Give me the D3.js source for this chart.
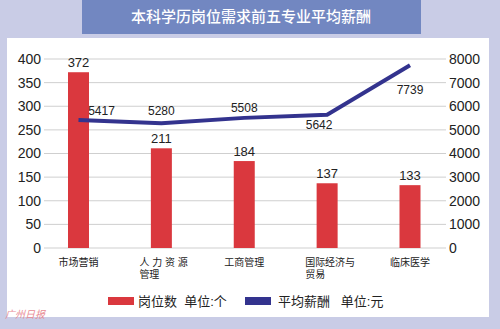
<!DOCTYPE html>
<html>
<head>
<meta charset="utf-8">
<script src="https://cdn.jsdelivr.net/npm/d3@7/dist/d3.min.js"></script>
<style>
  html, body { margin: 0; padding: 0; background: #c9cce6; }
  svg { display: block; }
  text { font-family: "Liberation Sans", Arial, "Noto Sans CJK SC", sans-serif; white-space: pre; }
</style>
</head>
<body>
<svg id="chart" width="500" height="329"></svg>
<script>
// 本科学历岗位需求前五专业：岗位数与平均薪酬
const categories = ["市场营销", "人力资源管理", "工商管理", "国际经济与贸易", "临床医学"];
const categoryLines = [["市场营销"], ["人 力 资 源", "管理"], ["工商管理"], ["国际经济与", "贸易"], ["临床医学"]];
const jobCounts = [372, 211, 184, 137, 133];
const avgSalary = [5417, 5280, 5508, 5642, 7739];
const leftTicks = [0, 50, 100, 150, 200, 250, 300, 350, 400];
const rightTicks = [0, 1000, 2000, 3000, 4000, 5000, 6000, 7000, 8000];

const W = 500, H = 329;
const svg = d3.select("#chart");

const RED = "#da383e", NAVY = "#33338e";
const plot = { left: 44, right: 446, top: 59, bottom: 248 };

// background, title banner and white panel
svg.append("rect").attr("width", W).attr("height", H).attr("fill", "#c9cce6");
svg.append("rect").attr("x", 82).attr("y", 0).attr("width", 339).attr("height", 34).attr("fill", "#7287c1");
svg.append("text").attr("x", 251).attr("y", 22).attr("text-anchor", "middle")
  .attr("fill", "#fff").attr("font-size", 15).attr("font-weight", 500)
  .attr("font-family", "'Noto Sans CJK SC', sans-serif")
  .text("本科学历岗位需求前五专业平均薪酬");
svg.append("rect").attr("x", 7).attr("y", 38).attr("width", 482).attr("height", 279).attr("fill", "#fff");

// scales
const x = d3.scalePoint().domain(categories).range([78.5, 410]);
const yL = d3.scaleLinear().domain([0, 400]).range([plot.bottom, plot.top]);
const yR = d3.scaleLinear().domain([0, 8000]).range([plot.bottom, plot.top]);

// gridlines
svg.append("g").selectAll("line").data(leftTicks).join("line")
  .attr("x1", plot.left).attr("x2", plot.right)
  .attr("y1", d => yL(d)).attr("y2", d => yL(d))
  .attr("stroke", "#cfcfcf").attr("stroke-width", 1);

// axes (labels only)
const axL = svg.append("g").attr("transform", `translate(${plot.left},0)`)
  .call(d3.axisLeft(yL).tickValues(leftTicks).tickFormat(d3.format("d")).tickSize(0).tickPadding(3));
const axR = svg.append("g").attr("transform", `translate(${plot.right},0)`)
  .call(d3.axisRight(yR).tickValues(rightTicks).tickFormat(d3.format("d")).tickSize(0).tickPadding(3));
[axL, axR].forEach(a => {
  a.select(".domain").remove();
  a.selectAll("text").attr("font-size", 14).attr("fill", "#222")
    .attr("font-family", "'Liberation Sans Narrow', 'Liberation Sans', Arial, sans-serif");
});

// bars
const barW = 21;
svg.append("g").selectAll("rect").data(jobCounts).join("rect")
  .attr("x", (d, i) => x(categories[i]) - barW / 2)
  .attr("y", d => yL(d))
  .attr("width", barW)
  .attr("height", d => yL(0) - yL(d))
  .attr("fill", RED);

// bar value labels
svg.append("g").selectAll("text").data(jobCounts).join("text")
  .attr("x", (d, i) => x(categories[i]))
  .attr("y", d => yL(d) - 5)
  .attr("text-anchor", "middle").attr("font-size", 13).attr("fill", "#222")
  .text(d => d);

// salary line
const line = d3.line().x((d, i) => x(categories[i])).y(d => yR(d));
svg.append("path").datum(avgSalary)
  .attr("d", line).attr("fill", "none")
  .attr("stroke", NAVY).attr("stroke-width", 4).attr("stroke-linejoin", "miter");

// salary labels
const salaryOffsets = [[23, -5], [0, -8], [0, -6], [-8, 14], [0, 29]];
svg.append("g").selectAll("text").data(avgSalary).join("text")
  .attr("x", (d, i) => x(categories[i]) + salaryOffsets[i][0])
  .attr("y", (d, i) => yR(d) + salaryOffsets[i][1])
  .attr("text-anchor", "middle").attr("font-size", 12).attr("fill", "#222")
  .text(d => d);

// category labels
const catG = svg.append("g").attr("font-size", 10).attr("fill", "#222")
  .attr("font-family", "'Noto Sans CJK SC', sans-serif");
categoryLines.forEach((lines, i) => {
  const cx = x(categories[i]);
  const multi = lines.length > 1;
  const t = catG.append("text")
    .attr("x", multi ? cx - 22 : cx)
    .attr("y", 266)
    .attr("text-anchor", multi ? "start" : "middle");
  lines.forEach((s, j) => {
    t.append("tspan").attr("x", multi ? cx - 22 : cx).attr("dy", j ? 12 : 0).text(s);
  });
});

// legend
const lg = svg.append("g").attr("font-family", "'Noto Sans CJK SC', sans-serif")
  .attr("font-size", 13).attr("fill", "#222");
lg.append("rect").attr("x", 108).attr("y", 297).attr("width", 26).attr("height", 8).attr("fill", RED);
lg.append("text").attr("x", 138).attr("y", 306).text("岗位数  单位:个");
lg.append("rect").attr("x", 245).attr("y", 297).attr("width", 26).attr("height", 8).attr("fill", NAVY);
lg.append("text").attr("x", 278).attr("y", 306).text("平均薪酬   单位:元");

// newspaper mark
svg.append("text").attr("x", 5).attr("y", 318)
  .attr("font-size", 10).attr("font-style", "italic").attr("fill", "#e88b95")
  .attr("font-family", "'Noto Sans CJK SC', sans-serif")
  .text("广州日报");
</script>
</body>
</html>
